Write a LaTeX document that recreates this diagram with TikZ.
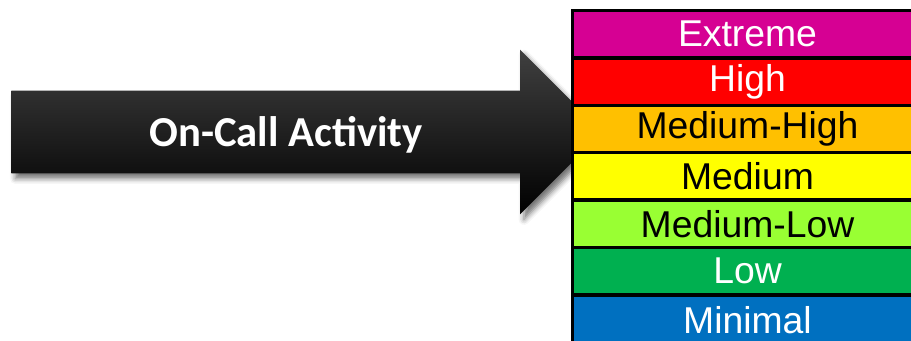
\documentclass[tikz,border=0pt]{standalone}
\usepackage{fontspec}
\setmainfont{Liberation Sans}
\newfontfamily\calfont{Carlito}
\usetikzlibrary{positioning,shapes.arrows,shadows.blur}
\definecolor{xtrm}{RGB}{214,0,147}
\definecolor{hig}{RGB}{255,0,0}
\definecolor{mhig}{RGB}{255,192,0}
\definecolor{med}{RGB}{255,255,0}
\definecolor{mlow}{RGB}{153,255,51}
\definecolor{low}{RGB}{0,176,80}
\definecolor{mini}{RGB}{0,112,192}

\begin{document}
\begin{tikzpicture}[x=0.75pt, y=0.75pt,
    cell/.style ={draw=black, line width=2.55pt, minimum width=262.5pt,
                  minimum height=35.55pt, inner sep=0pt, outer sep=0pt,
                  font=\fontsize{28}{30}\selectfont},
    flow/.style ={single arrow, single arrow head extend=30.75pt,
                  single arrow tip angle=90, minimum height=443.25pt,
                  minimum width=123pt, inner sep=0pt, text height=42pt,
                  text depth=19.5pt, text=white,
                  top color=black!75, middle color=black, bottom color=black,
                  font=\calfont\bfseries\fontsize{32}{34}\selectfont,
                  blur shadow={shadow xshift=3pt, shadow yshift=-4pt,
                               shadow blur radius=4pt, shadow opacity=55}},
  ]
  \useasboundingbox (0,0) rectangle (911,341);
  \clip (0,0) rectangle (911,341);
  % the arrow, partly behind the scale
  \node[flow, anchor=tail] (act) at (11,209) {On-Call Activity};
  % the scale (cut off by the page on the right and below)
  \node[cell, fill=xtrm, text=white, anchor=north] (xtr) at (747.5,330.5) {Extreme};
  \node[cell, fill=hig,  text=white, below=0pt of xtr]  (hgh)  {High};
  \node[cell, fill=mhig, below=0pt of hgh]              (mhg)  {Medium-High};
  \node[cell, fill=med,  below=0pt of mhg]              (mdm)  {Medium};
  \node[cell, fill=mlow, below=0pt of mdm]              (mlw)  {Medium-Low};
  \node[cell, fill=low,  text=white, below=0pt of mlw]  (lw)   {Low};
  \node[cell, fill=mini, text=white, below=0pt of lw,
        minimum height=37.5pt]                          (mnl)  {Minimal};
\end{tikzpicture}
\end{document}
